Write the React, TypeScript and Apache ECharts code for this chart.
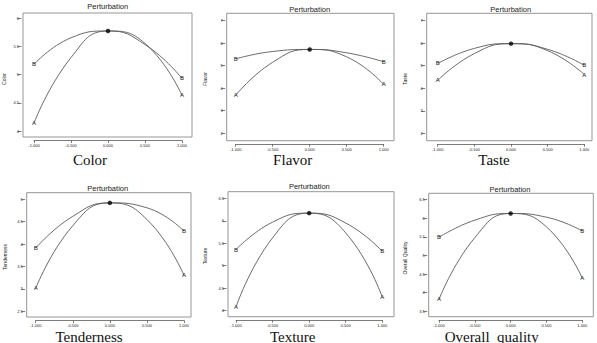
import React, { useEffect, useRef } from "react";
import * as echarts from "echarts";

// ---- data ----
const xTicks = [-1, -0.5, 0, 0.5, 1];
const captions = ["Color", "Flavor", "Taste", "Tenderness", "Texture", "Overall  quality"];
const yAxisNames = ["Color", "Flavor", "Taste", "Tenderness", "Texture", "Overall Quality"];
const yMin = [4, 2, 2, 2.5, 4, 3.5];
const yMax = [6, 7, 7, 5, 6.5, 6.5];
const yStep = [0.5, 1, 1, 0.5, 0.5, 0.5];

const colorA = [4.14, 5.3, 5.77, 5.55, 4.63];
const colorB = [5.18, 5.65, 5.77, 5.53, 4.93];
const flavorA = [3.68, 5.15, 5.72, 5.39, 4.16];
const flavorB = [5.3, 5.63, 5.72, 5.57, 5.17];
const tasteA = [4.35, 5.54, 5.98, 5.67, 4.61];
const tasteB = [5.1, 5.77, 5.98, 5.73, 5.02];
const tendernessA = [3.01, 4.41, 4.92, 4.55, 3.3];
const tendernessB = [3.91, 4.62, 4.92, 4.81, 4.29];
const textureA = [4.08, 5.62, 6.17, 5.73, 4.3];
const textureB = [5.36, 5.97, 6.17, 5.95, 5.32];
const overallA = [3.82, 5.48, 6.13, 5.77, 4.39];
const overallB = [5.49, 5.95, 6.13, 6.03, 5.66];

const seriesA = [colorA, flavorA, tasteA, tendernessA, textureA, overallA];
const seriesB = [colorB, flavorB, tasteB, tendernessB, textureB, overallB];

// ---- layout (pixels) ----
const grids = [
  { left: 34, top: 18, width: 148, height: 113 },
  { left: 235.7, top: 20.7, width: 148, height: 112.3 },
  { left: 437.7, top: 20.7, width: 146.6, height: 112.6 },
  { left: 35.7, top: 199.3, width: 148.3, height: 112 },
  { left: 236, top: 198.3, width: 146.3, height: 112.4 },
  { left: 439, top: 199.7, width: 143.3, height: 111.6 },
];
const boxes = [
  { x1: 23, y1: 13, x2: 192, y2: 137 },
  { x1: 226.7, y1: 13.3, x2: 394, y2: 140.7 },
  { x1: 426.7, y1: 13.3, x2: 592, y2: 140.7 },
  { x1: 26.7, y1: 192.7, x2: 191, y2: 317 },
  { x1: 228, y1: 191.7, x2: 394, y2: 316.7 },
  { x1: 428.7, y1: 193.3, x2: 593.3, y2: 316.7 },
];
const titlePos = [
  [107.7, 6.7], [309.7, 9.3], [510.7, 9.3], [107.7, 188.3], [309.3, 186.7], [510, 189],
];
const captionPos = [
  [90, 160], [292.7, 160], [494, 160], [89, 336.5], [292.7, 336.5], [491.7, 336.5],
];
const yNamePos = [
  [4, 79], [205, 79], [405, 79], [5, 257], [205, 256], [405, 258],
];

const LINE = "#5a5a5a";
const TXT = "#222";

export default function App() {
  const ref = useRef<HTMLDivElement>(null);
  useEffect(() => {
    if (!ref.current) return;
    const chart = echarts.init(ref.current, undefined, { renderer: "svg" });

    const grid: any[] = [];
    const xAxis: any[] = [];
    const yAxis: any[] = [];
    const series: any[] = [];
    const graphic: any[] = [];

    for (let i = 0; i < 6; i++) {
      const g = grids[i];
      const b = boxes[i];
      grid.push({ left: g.left, top: g.top, width: g.width, height: g.height });
      const gBottom = g.top + g.height;
      xAxis.push({
        gridIndex: i,
        type: "value",
        min: -1,
        max: 1,
        interval: 0.5,
        offset: b.y2 + 3.5 - gBottom,
        axisLine: { show: true, onZero: false, lineStyle: { color: LINE, width: 0.8 } },
        axisTick: { show: true, length: 2.5, lineStyle: { color: LINE, width: 0.8 } },
        axisLabel: {
          fontSize: 4,
          color: TXT,
          margin: 3,
          fontFamily: "Liberation Sans",
          formatter: (v: number) => v.toFixed(3),
        },
        splitLine: { show: false },
      });
      yAxis.push({
        gridIndex: i,
        type: "value",
        min: yMin[i],
        max: yMax[i],
        interval: yStep[i],
        offset: g.left - (b.x1 - 1.5),
        axisLine: { show: false, onZero: false },
        axisTick: { show: true, length: 4, lineStyle: { color: LINE, width: 0.8 } },
        axisLabel: {
          fontSize: 4,
          color: TXT,
          margin: 2.5,
          fontFamily: "Liberation Sans",
        },
        splitLine: { show: false },
      });

      const mk = (vals: number[], letter: string) =>
        vals.map((v, k) => {
          const end = k === 0 || k === vals.length - 1;
          return {
            value: [xTicks[k], v],
            label: end
              ? {
                  show: true,
                  formatter: letter,
                  position: "inside",
                  fontSize: 6,
                  color: TXT,
                  textBorderWidth: 0,
                  textBorderColor: "transparent",
                  fontFamily: "Liberation Sans",
                }
              : { show: false },
          };
        });

      for (const [vals, letter] of [
        [seriesA[i], "A"],
        [seriesB[i], "B"],
      ] as [number[], string][]) {
        series.push({
          type: "line",
          xAxisIndex: i,
          yAxisIndex: i,
          data: mk(vals, letter),
          smooth: 0.5,
          symbol: "circle",
          symbolSize: 0,
          showSymbol: true,
          color: LINE,
          lineStyle: { color: LINE, width: 0.9 },
          itemStyle: { color: LINE, borderWidth: 0 },
          clip: false,
          z: 3,
        });
      }
      series.push({
        type: "scatter",
        xAxisIndex: i,
        yAxisIndex: i,
        data: [[0, seriesA[i][2]]],
        symbolSize: 4.5,
        itemStyle: { color: "#000" },
        z: 5,
      });

      graphic.push({
        type: "rect",
        shape: { x: b.x1, y: b.y1, width: b.x2 - b.x1, height: b.y2 - b.y1 },
        style: { fill: "none", stroke: "#8a8a8a", lineWidth: 0.9 },
        silent: true,
        z: 1,
      });
      graphic.push({
        type: "text",
        x: titlePos[i][0],
        y: titlePos[i][1],
        style: {
          text: "Perturbation",
          fontSize: 7.5,
          fontFamily: "Liberation Sans",
          fill: TXT,
          align: "center",
          verticalAlign: "middle",
        },
        silent: true,
      });
      graphic.push({
        type: "text",
        x: captionPos[i][0],
        y: captionPos[i][1],
        style: {
          text: captions[i],
          fontSize: 15,
          fontFamily: "Liberation Serif",
          fill: "#111",
          align: "center",
          verticalAlign: "middle",
        },
        silent: true,
      });
      graphic.push({
        type: "text",
        x: yNamePos[i][0],
        y: yNamePos[i][1],
        rotation: Math.PI / 2,
        style: {
          text: yAxisNames[i],
          fontSize: 5,
          fontFamily: "Liberation Sans",
          fill: TXT,
          align: "center",
          verticalAlign: "middle",
        },
        silent: true,
      });
    }

    chart.setOption({
      animation: false,
      backgroundColor: "#fff",
      grid,
      xAxis,
      yAxis,
      series,
      graphic,
    });
    return () => chart.dispose();
  }, []);

  return (
    <div
      ref={ref}
      style={{ position: "fixed", left: 0, top: 0, width: 597, height: 343 }}
    />
  );
}
